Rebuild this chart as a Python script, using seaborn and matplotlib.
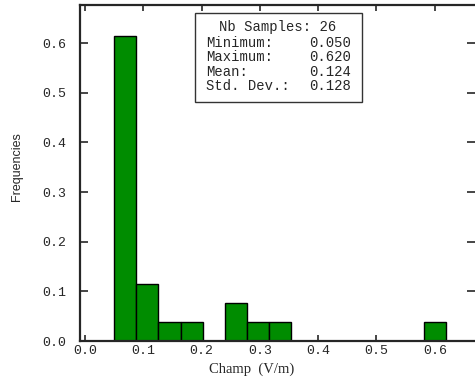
import numpy as np
import pandas as pd
import seaborn as sns
from matplotlib import pyplot as plt

# histogram data
bin_edges = [0.050, 0.088, 0.126, 0.164, 0.202, 0.240, 0.278, 0.316, 0.354,
             0.392, 0.430, 0.468, 0.506, 0.544, 0.582, 0.620]
counts = [16, 3, 1, 1, 0, 2, 1, 1, 0, 0, 0, 0, 0, 0, 1]
n_samples = 26

stat_labels = ['Minimum:', 'Maximum:', 'Mean:', 'Std. Dev.:']
stat_values = ['0.050', '0.620', '0.124', '0.128']

x_ticks = [0.0, 0.1, 0.2, 0.3, 0.4, 0.5, 0.6]
y_ticks = [0.0, 0.1, 0.2, 0.3, 0.4, 0.5, 0.6]

edges = np.array(bin_edges)
df = pd.DataFrame({'champ': (edges[:-1] + edges[1:]) / 2,
                   'freq': np.array(counts) / n_samples})

sns.set_style('ticks')
mono = 'Liberation Mono'

fig = plt.figure(figsize=(4.75, 3.8), dpi=100)
ax = fig.add_axes([80 / 475, 39 / 380, 395 / 475, 336 / 380])

sns.histplot(data=df, x='champ', weights='freq', bins=bin_edges, stat='count',
             color='#008c00', alpha=1, edgecolor='black', linewidth=1, ax=ax)

ax.set_xlim(-0.0086, 0.669)
ax.set_ylim(0, 0.677)
ax.set_xticks(x_ticks)
ax.set_yticks(y_ticks)
ax.set_xticklabels([f'{v:.1f}' for v in x_ticks], family=mono, fontsize=9.5)
ax.set_yticklabels([f'{v:.1f}' for v in y_ticks], family=mono, fontsize=9.5)
ax.tick_params(axis='x', direction='in', length=4, width=1.2, top=True, pad=3)
ax.tick_params(axis='y', direction='in', length=6, width=1.2, right=True, pad=10)
for s in ['left', 'bottom', 'top']:
    ax.spines[s].set_linewidth(1.6)
ax.spines['right'].set_visible(False)

ax.set_xlabel('Champ  (V/m)', family='Liberation Serif', fontsize=10.5)
ax.set_ylabel('Frequencies', family='Liberation Sans', fontsize=9)
ax.xaxis.set_label_coords(0.435, -0.065)
ax.yaxis.set_label_coords(-0.145, 0.52)

# statistics box
box = plt.Rectangle((195 / 475, 1 - 102 / 380), 167 / 475, 89 / 380,
                    transform=fig.transFigure, facecolor='white',
                    edgecolor='#333333', linewidth=1, zorder=5)
fig.patches.append(box)
fig.text(278 / 475, 1 - 27 / 380, f'Nb Samples: {n_samples}', family=mono,
         fontsize=10, ha='center', va='center', zorder=6)
for i, (lab, val) in enumerate(zip(stat_labels, stat_values)):
    y = 1 - (43 + i * 14.3) / 380
    fig.text(206 / 475, y, lab, family=mono, fontsize=10, ha='left', va='center', zorder=6)
    fig.text(351 / 475, y, val, family=mono, fontsize=10, ha='right', va='center', zorder=6)

plt.savefig('out.png', dpi=100)
